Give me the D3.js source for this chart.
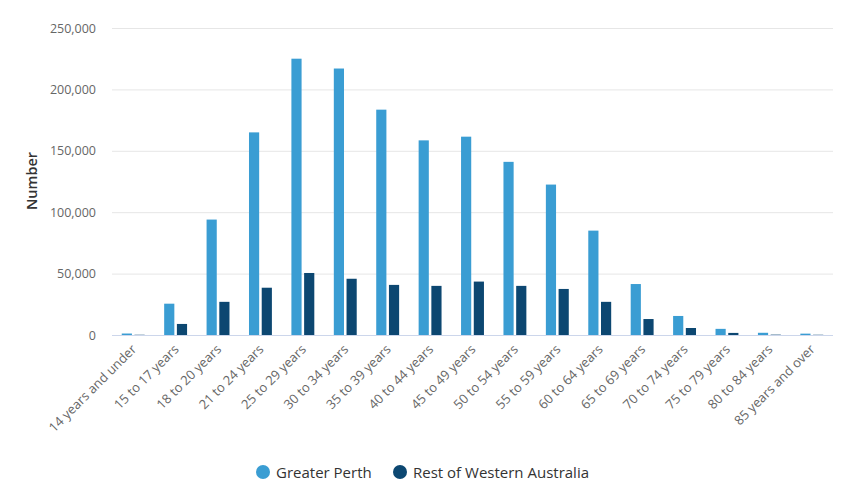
<!DOCTYPE html>
<html><head><meta charset="utf-8">
<script src="https://cdn.jsdelivr.net/npm/d3@7/dist/d3.min.js"></script>
<style>body{margin:0;background:#fff;font-family:"Open Sans","Noto Sans",sans-serif;}</style>
</head><body><svg id="c" width="853" height="492"></svg>
<script>
const categories = ["14 years and under","15 to 17 years","18 to 20 years","21 to 24 years","25 to 29 years","30 to 34 years","35 to 39 years","40 to 44 years","45 to 49 years","50 to 54 years","55 to 59 years","60 to 64 years","65 to 69 years","70 to 74 years","75 to 79 years","80 to 84 years","85 years and over"];
const seriesNames = ["Greater Perth","Rest of Western Australia"];
const greaterPerth = [1200,25500,94000,165000,225000,217000,183500,158500,161500,141000,122500,85000,41500,15500,5000,1800,1100];
const restOfWA = [200,9000,27000,38500,50500,45800,40800,40000,43500,40000,37500,27000,13000,5700,1700,300,200];
const yTicks = [0,50000,100000,150000,200000,250000];
const colors = ["#3a9dd3","#0c4771"];

const svg = d3.select("#c");
const m = {l:112, r:833, t:28, b:335};
const x = d3.scaleBand().domain(categories).range([m.l, m.r]).paddingInner(0).paddingOuter(0);
const y = d3.scaleLinear().domain([0,250000]).range([m.b, m.t]);
const gp = 0.2;
const groupW = x.bandwidth()*(1-2*gp);
const x1 = d3.scaleBand().domain(seriesNames).range([x.bandwidth()*gp, x.bandwidth()*gp+groupW]).paddingInner(0.2).paddingOuter(0.1);

// gridlines
svg.append("g").selectAll("line").data(yTicks.filter(d=>d>0)).join("line")
  .attr("x1", m.l).attr("x2", m.r).attr("y1", d=>y(d)+0.5).attr("y2", d=>y(d)+0.5)
  .attr("stroke","#e6e6e6").attr("stroke-width",1);

// y tick labels
svg.append("g").selectAll("text").data(yTicks).join("text")
  .attr("x", 96).attr("y", d=>y(d)+4.5).attr("text-anchor","end")
  .attr("font-size","12.5px").attr("fill","#666").text(d=>d3.format(",")(d));

// y title
svg.append("text").attr("transform","translate(37,181) rotate(-90)").attr("text-anchor","middle")
  .attr("font-size","14.5px").attr("font-weight","600").attr("fill","#333").text("Number");

// bars
const data = [greaterPerth, restOfWA];
seriesNames.forEach((s,i)=>{
  svg.append("g").selectAll("rect").data(categories).join("rect")
    .attr("x", c=>x(c)+x1(s)).attr("width", x1.bandwidth())
    .attr("y", (c,j)=>y(data[i][j])).attr("height",(c,j)=>y(0)-y(data[i][j]))
    .attr("fill", colors[i]);
});

// x axis line
svg.append("line").attr("x1",m.l).attr("x2",m.r).attr("y1",m.b+0.5).attr("y2",m.b+0.5)
  .attr("stroke","#ccd6eb").attr("stroke-width",1);

// x labels
svg.append("g").selectAll("text").data(categories).join("text")
  .attr("transform", c=>`translate(${x(c)+x.bandwidth()/2+4},${m.b+15}) rotate(-45)`)
  .attr("text-anchor","end").attr("font-size","13px").attr("fill","#666").text(c=>c);

// legend
const leg = [{x:263, name:seriesNames[0]},{x:400, name:seriesNames[1]}];
leg.forEach((l,i)=>{
  svg.append("circle").attr("cx",l.x).attr("cy",472).attr("r",7).attr("fill",colors[i]);
  svg.append("text").attr("x",l.x+13).attr("y",477.5).attr("font-size","15px").attr("fill","#333").text(l.name);
});
</script></body></html>
